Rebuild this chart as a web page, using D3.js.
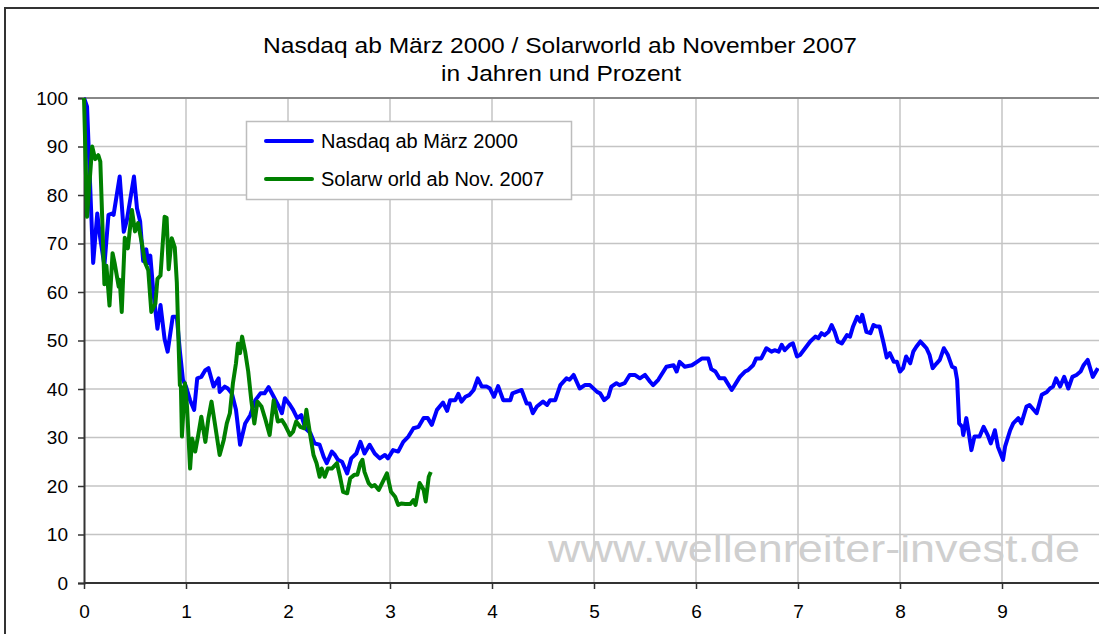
<!DOCTYPE html>
<html>
<head>
<meta charset="utf-8">
<script src="https://cdn.jsdelivr.net/npm/d3@7"></script>
<style>
  html, body { margin: 0; padding: 0; background: #fff; }
  svg { display: block; font-family: "Liberation Sans", Arial, sans-serif; }
</style>
</head>
<body>
<svg id="chart" width="1099" height="634"></svg>
<script>
// ---- Data (years since start, percent of start value) ----
const titleLines = ["Nasdaq ab März 2000 / Solarworld ab November 2007", "in Jahren und Prozent"];
const seriesNames = ["Nasdaq ab März 2000", "Solarw orld ab Nov. 2007"];
const xTicks = [0, 1, 2, 3, 4, 5, 6, 7, 8, 9];
const yTicks = [0, 10, 20, 30, 40, 50, 60, 70, 80, 90, 100];
const watermark = "www.wellenreiter-invest.de";

const nasdaqYears = [0.00,0.03,0.09,0.13,0.16,0.20,0.24,0.28,0.29,0.35,0.39,0.42,0.49,0.52,0.55,0.58,0.61,0.63,0.65,0.68,0.72,0.75,0.79,0.82,0.87,0.91,0.94,0.97,
1.00,1.04,1.08,1.11,1.15,1.19,1.22,1.27,1.32,1.33,1.38,1.41,1.45,1.49,1.53,1.58,1.63,1.68,1.73,1.77,1.81,1.86,1.91,1.94,1.97,
2.02,2.05,2.09,2.13,2.17,2.22,2.26,2.31,2.35,2.38,2.43,2.46,2.49,2.53,2.58,2.62,2.67,2.71,2.75,2.80,2.85,2.90,2.95,2.98,
3.03,3.08,3.13,3.18,3.23,3.28,3.33,3.37,3.41,3.46,3.52,3.56,3.59,3.64,3.67,3.70,3.74,3.78,3.82,3.86,3.90,3.95,3.98,
4.02,4.06,4.11,4.18,4.20,4.29,4.34,4.37,4.40,4.44,4.50,4.54,4.57,4.62,4.67,4.73,4.76,4.80,4.86,4.91,4.96,
5.03,5.06,5.10,5.14,5.17,5.22,5.25,5.30,5.35,5.40,5.45,5.50,5.55,5.58,5.63,5.71,5.78,5.81,5.84,5.89,5.96,
6.01,6.06,6.12,6.15,6.19,6.23,6.28,6.35,6.38,6.43,6.48,6.51,6.56,6.59,6.64,6.69,6.74,6.77,6.81,6.84,6.87,6.92,6.95,6.99,
7.02,7.07,7.12,7.17,7.20,7.23,7.26,7.30,7.33,7.36,7.39,7.43,7.48,7.51,7.54,7.58,7.61,7.63,7.67,7.71,7.74,7.77,7.80,7.84,7.87,7.90,7.94,7.97,
8.00,8.03,8.06,8.10,8.13,8.16,8.20,8.23,8.26,8.29,8.32,8.36,8.39,8.43,8.47,8.51,8.54,8.56,8.58,8.61,8.62,8.65,8.67,8.70,8.73,8.78,8.82,8.86,8.89,8.93,8.96,
9.01,9.03,9.08,9.11,9.16,9.19,9.24,9.27,9.34,9.39,9.44,9.47,9.50,9.53,9.57,9.61,9.65,9.69,9.73,9.77,9.80,9.84,9.89,9.94];
const nasdaqValues = [100,98.2,66,76.2,71,65.5,75.9,76.2,75.9,83.8,72.4,74.8,83.8,77.2,74.6,66.4,68.8,66,67.5,60,52.4,57.3,50.3,47.7,54.9,54.9,47.8,41.9,
40.5,37.7,35.7,42.2,42.5,43.9,44.3,40.5,42.2,39.4,40.5,40.1,39.1,35.7,28.5,32.9,34.6,37.7,39.1,39.1,40.4,38.4,36.4,35,38.1,
36.7,35.7,34,34.6,31.9,30.9,28.8,28.5,26,24.7,27.1,26.4,25.4,25,22.6,25.7,26.7,29.1,26.7,28.5,26.7,25.7,26.4,25.7,
27.4,27.1,29.1,30.2,31.9,32.2,34,34,32.6,35.7,37.2,35.5,37.7,37.7,39,37.4,38.4,38.8,39.8,42.2,40.5,40.5,40.1,
38.4,40.6,37.7,37.7,39.1,39.8,37,37,35,36.4,37.4,36.7,37.7,37.7,40.8,42.2,41.9,42.9,40.1,40.8,40.8,
39.4,39.1,37.7,38.4,40.5,41.2,40.8,41.2,42.9,42.9,42.2,42.9,41.5,40.8,41.9,44.6,44.9,43.6,45.6,44.6,44.9,
45.6,46.3,46.3,44.1,43.6,42.2,42.2,39.8,40.8,42.5,43.6,43.9,44.9,46.3,46.3,48.4,47.7,48,47.7,49.1,48,49.1,49.4,46.7,
47,48.4,49.8,50.8,50.5,51.5,51.1,51.8,53.2,51.8,49.8,49.4,51.1,50.8,52.9,54.9,53.9,55.3,51.8,51.5,53.2,52.9,52.9,49.4,46.5,47.4,45.6,45.6,
43.6,44.3,46.7,45.3,47.7,48.7,49.8,49.1,48.4,47,44.3,45.3,46,48.4,47,44.6,44.3,41.9,32.9,32.2,30.5,34,31.5,27.4,30.2,30.2,32.2,30.5,28.8,31.5,28.1,
25.4,28.1,31.5,32.9,34,32.9,36.4,36.7,35,38.8,39.4,40.1,40.5,42.2,40.5,42.5,40.1,42.5,42.9,43.6,44.9,46,42.5,44.3];

const solarYears = [0.00,0.03,0.08,0.11,0.14,0.16,0.20,0.22,0.25,0.28,0.30,0.34,0.35,0.37,0.40,0.43,0.47,0.50,0.53,0.57,0.60,0.63,0.66,0.70,0.72,0.75,0.79,0.81,0.83,0.86,0.89,0.91,0.93,0.94,0.95,0.96,0.99,
1.01,1.04,1.06,1.09,1.12,1.15,1.19,1.22,1.25,1.28,1.33,1.37,1.40,1.43,1.46,1.49,1.51,1.53,1.55,1.58,1.61,1.64,1.67,1.70,1.74,1.78,1.82,1.86,1.90,1.94,1.97,
2.02,2.05,2.08,2.12,2.16,2.18,2.22,2.25,2.28,2.31,2.33,2.36,2.39,2.43,2.48,2.51,2.54,2.58,2.61,2.65,2.68,2.71,2.73,2.75,2.79,2.82,2.85,2.89,2.93,2.97,
3.01,3.05,3.08,3.11,3.15,3.20,3.23,3.25,3.29,3.33,3.35,3.38,3.40];
const solarValues = [100,75.5,90,87.4,88.2,86.9,61.6,65.4,57.2,68,66,61.1,62.5,55.9,71.2,69,76.9,72.5,74.2,69.7,66,64.5,55.9,57.6,62.7,63.4,75.5,75.3,64.7,71.1,69.2,62,47.5,40.8,40.5,30.2,41.2,
36.4,23.6,29.8,27.1,30.5,34.3,29.1,34,37.4,33.3,26.4,29.5,32.9,35,41.2,45.3,49.4,47.4,50.8,47.7,43.6,37.7,32.9,37.4,36.4,33.6,30.5,37.7,33.3,33.6,32.6,
30.5,31.2,33.3,32.2,31.9,35.7,30.2,26.4,24.7,21.9,23.6,21.9,23.6,23.6,24.7,21.9,18.8,18.5,21.6,22.3,22.3,24.7,25.4,22.9,20.6,19.9,20.2,19.2,20.9,22.6,
18.8,17.8,16.1,16.4,16.3,16.3,17.1,16.1,20.6,19.2,16.8,21.9,22.9];

const nasdaq = nasdaqYears.map((t, i) => ({ t, v: nasdaqValues[i] }));
const solar = solarYears.map((t, i) => ({ t, v: solarValues[i] }));

// ---- Layout ----
const svg = d3.select("#chart");
const W = 1099, H = 634;
const x = d3.scaleLinear().domain([0, 10]).range([84, 1104]);
const y = d3.scaleLinear().domain([0, 100]).range([583, 98]);

// outer chart frame (cropped on right/bottom)
svg.append("rect").attr("x", 5).attr("y", 8).attr("width", 1200).attr("height", 700)
  .attr("fill", "#fff").attr("stroke", "#333").attr("stroke-width", 2);

// title
svg.append("text").attr("x", 560).attr("y", 53).attr("text-anchor", "middle")
  .attr("font-size", 22).attr("fill", "#000")
  .attr("textLength", 594).attr("lengthAdjust", "spacingAndGlyphs").text(titleLines[0]);
svg.append("text").attr("x", 561).attr("y", 81).attr("text-anchor", "middle")
  .attr("font-size", 22).attr("fill", "#000")
  .attr("textLength", 240).attr("lengthAdjust", "spacingAndGlyphs").text(titleLines[1]);

// gridlines
const grid = svg.append("g");
grid.selectAll(".hg").data(yTicks.filter(d => d > 0 && d < 100)).join("line")
  .attr("x1", x(0)).attr("x2", W).attr("y1", d => y(d)).attr("y2", d => y(d))
  .attr("stroke", "#c4c4c4").attr("stroke-width", 1.5);
grid.selectAll(".vg").data(xTicks.filter(d => d > 0)).join("line")
  .attr("x1", d => x(d)).attr("x2", d => x(d)).attr("y1", y(100)).attr("y2", y(0))
  .attr("stroke", "#c4c4c4").attr("stroke-width", 1.5);

// plot area top border
svg.append("line").attr("x1", x(0)).attr("x2", W).attr("y1", y(100)).attr("y2", y(100))
  .attr("stroke", "#888").attr("stroke-width", 2);

// axes
const yAxis = d3.axisLeft(y).tickValues(yTicks).tickSize(6).tickPadding(10);
const gy = svg.append("g").attr("transform", `translate(${x(0)},0)`).call(yAxis);
const xAxis = d3.axisBottom(x).tickValues(xTicks).tickSize(6).tickPadding(16).tickFormat(d3.format("d"));
const gx = svg.append("g").attr("transform", `translate(0,${y(0)})`).call(xAxis);
[gx, gy].forEach(g => {
  g.select(".domain").attr("stroke", "#333").attr("stroke-width", 2);
  g.selectAll(".tick line").attr("stroke", "#333").attr("stroke-width", 1.5);
  g.selectAll(".tick text").attr("font-size", 19).attr("fill", "#000")
    .attr("font-family", "'Liberation Sans', Arial, sans-serif");
});
gx.select(".domain").attr("d", `M${x(0)},0H${W}`);

// watermark
svg.append("text").attr("x", 548).attr("y", 562).attr("font-size", 38)
  .attr("fill", "#cfcfcf").attr("textLength", 532).attr("lengthAdjust", "spacingAndGlyphs")
  .text(watermark);

// lines
const line = d3.line().x(d => x(d.t)).y(d => y(d.v));
svg.append("path").datum(nasdaq).attr("d", line).attr("fill", "none")
  .attr("stroke", "#0000ff").attr("stroke-width", 4).attr("stroke-linejoin", "round");
svg.append("path").datum(solar).attr("d", line).attr("fill", "none")
  .attr("stroke", "#008000").attr("stroke-width", 4).attr("stroke-linejoin", "round");

// legend
const lg = svg.append("g");
lg.append("rect").attr("x", 246.5).attr("y", 121.5).attr("width", 325).attr("height", 78)
  .attr("fill", "#fff").attr("stroke", "#bdbdbd").attr("stroke-width", 1.5);
const colors = ["#0000ff", "#008000"];
seriesNames.forEach((name, i) => {
  const cy = 141 + i * 38;
  lg.append("line").attr("x1", 266).attr("x2", 312).attr("y1", cy).attr("y2", cy)
    .attr("stroke", colors[i]).attr("stroke-width", 4).attr("stroke-linecap", "round");
  lg.append("text").attr("x", 321).attr("y", cy + 7).attr("font-size", 20).attr("fill", "#000")
    .text(name);
});
</script>
</body>
</html>
